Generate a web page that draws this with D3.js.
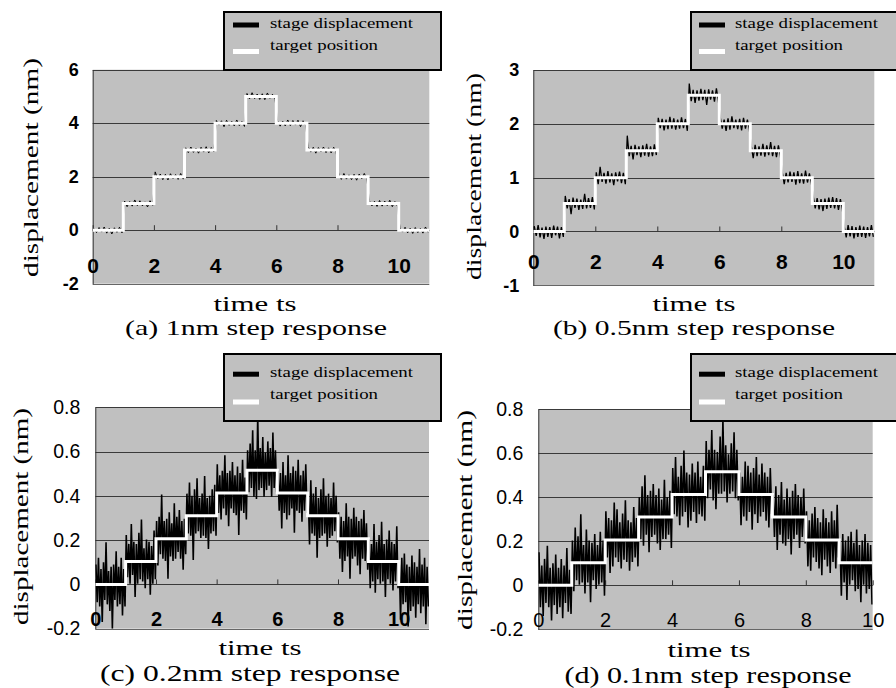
<!DOCTYPE html>
<html>
<head>
<meta charset="utf-8">
<script src="https://cdn.jsdelivr.net/npm/d3@7"></script>
<style>
body{margin:0;background:#fff}
</style>
</head>
<body>
<div id="root"></div>
<script>
// target position per ts (nm), one value per step
const targetA = [0,1,2,3,4,5,4,3,2,1,0]
const targetB = [0,0.52,1,1.5,2,2.53,2,1.5,1,0.52,0]
const targetC = [0,0.103,0.206,0.31,0.413,0.516,0.413,0.31,0.206,0.103,0]
const targetD = [0,0.103,0.206,0.31,0.413,0.516,0.413,0.31,0.206,0.103]

// stage displacement minus target, in 0.01 nm
// (a): 12 samples per ts, (b): 16, (c),(d): 24
const devA = [
  6,-9,10,-7,12,-11,8,-14,9,-8,11,-10,
  9,-12,7,-10,13,-8,10,-9,6,-13,10,-7,
  18,-8,10,-11,9,-12,11,-7,8,-10,12,-9,
  8,-10,11,-9,7,-12,10,-8,12,-11,9,-7,
  10,-7,9,-13,11,-8,8,-10,12,-9,7,-12,
  11,-9,14,-8,9,-11,10,-12,13,-7,8,-10,
  9,-11,8,-10,12,-9,10,-7,11,-13,9,-8,
  12,-8,10,-12,9,-7,11,-10,8,-11,10,-9,
  8,-10,12,-9,7,-11,9,-13,10,-8,12,-7,
  10,-9,8,-11,11,-10,9,-8,12,-12,7,-10,
  9,-7,11,-10,8,-12,10,-9,7,-11,12,-8]
const devB = [
  10,-8,12,-11,7,-14,9,-10,8,-12,11,-7,9,-13,8,-10,
  14,-9,8,-20,11,-8,9,-12,7,-10,18,-9,10,-8,12,-11,
  10,-12,20,-8,9,-11,12,-9,8,-14,10,-7,11,-10,9,-12,
  28,-10,9,-16,11,-8,8,-12,10,-9,13,-11,8,-10,12,-8,
  11,-8,9,-12,8,-10,13,-9,10,-11,8,-9,12,-8,9,-13,
  22,-11,10,-14,9,-10,12,-9,10,-18,11,-8,9,-12,13,-10,
  12,-9,8,-13,10,-11,14,-8,8,-10,9,-12,11,-9,8,-11,
  9,-14,11,-10,8,-9,13,-11,10,-8,16,-10,9,-12,10,-9,
  10,-12,9,-9,11,-8,10,-13,12,-10,8,-11,13,-9,8,-10,
  13,-9,10,-11,8,-14,9,-10,11,-8,12,-9,10,-12,8,-11,
  9,-11,12,-9,10,-13,8,-10,11,-10,9,-12,8,-9,12,-10]
const devC = [
  9,-8,12,-10,7,-17,10,-7,19,-9,6,-12,8,-20,9,-7,15,-10,8,-9,12,-14,7,-10,
  12,-7,8,-10,17,-6,9,-16,8,-10,13,-8,19,-9,6,-12,10,-8,9,-15,7,-10,14,-8,
  8,-12,10,-7,20,-9,8,-10,9,-18,12,-8,7,-10,16,-9,10,-6,13,-9,8,-14,9,-7,
  10,-8,15,-9,9,-20,12,-8,17,-7,8,-10,10,-9,18,-10,8,-15,9,-8,12,-7,14,-9,
  13,-9,8,-12,10,-7,17,-10,9,-15,10,-7,14,-9,8,-10,12,-19,9,-8,15,-9,7,-12,
  9,-10,12,-8,18,-12,9,-13,25,-9,10,-8,15,-12,8,-9,13,-7,10,-12,17,-8,9,-10,
  10,-8,9,-16,14,-9,8,-12,17,-10,9,-7,12,-18,10,-8,15,-9,8,-13,10,-8,13,-9,
  9,-13,16,-8,10,-9,13,-19,8,-10,12,-9,17,-8,9,-14,10,-10,8,-9,15,-7,9,-12,
  12,-9,10,-15,8,-10,16,-8,10,-18,9,-9,14,-8,10,-12,8,-16,9,-9,13,-10,7,-14,
  10,-12,8,-9,17,-14,9,-8,12,-10,18,-9,8,-16,10,-8,14,-10,9,-13,8,-9,16,-12,
  9,-16,12,-9,14,-8,9,-19,8,-12,13,-10,10,-15,8,-9,16,-13,9,-10,12,-18,8,-10]
const devD = [
  15,-10,9,-14,12,-8,18,-10,8,-16,10,-9,14,-13,8,-10,12,-15,9,-8,17,-12,7,-13,
  10,-13,16,-8,12,-10,22,-9,8,-14,15,-9,10,-18,9,-8,13,-12,8,-10,14,-9,10,-15,
  13,-8,10,-15,9,-12,17,-8,14,-10,8,-13,12,-9,18,-10,9,-14,8,-10,15,-8,10,-12,
  9,-10,14,-13,19,-8,10,-16,12,-9,15,-8,10,-12,13,-15,8,-10,17,-10,9,-8,12,-14,
  12,-9,17,-10,8,-14,13,-10,20,-8,10,-15,9,-12,14,-8,10,-13,15,-9,8,-10,13,-12,
  14,-12,10,-8,19,-13,10,-17,9,-10,16,-10,24,-9,12,-14,8,-10,13,-9,18,-12,10,-13,
  10,-14,8,-10,15,-12,13,-8,10,-16,12,-9,17,-13,9,-10,14,-8,10,-12,8,-15,12,-9,
  10,-9,14,-15,10,-8,16,-12,8,-13,13,-10,9,-17,12,-10,15,-8,10,-14,9,-9,13,-12,
  13,-12,9,-14,12,-8,15,-10,10,-13,8,-16,14,-9,10,-12,8,-15,13,-10,9,-13,16,-8,
  10,-15,13,-9,10,-17,12,-10,14,-8,9,-13,15,-12,8,-18,10,-10,13,-14,9,-12,8,-19]

const yticksA = [-2,0,2,4,6]
const yticksB = [-1,0,1,2,3]
const yticksC = [-0.2,0,0.2,0.4,0.6,0.8]
const xticks = [0,2,4,6,8,10]
const captions = ["(a) 1nm step response","(b) 0.5nm step response","(c) 0.2nm step response","(d) 0.1nm step response"]
const legendnames = ["stage displacement","target position"]
const ytitle = "displacement (nm)"
const xtitle = "time ts"

const serif = "'Liberation Serif', 'Times New Roman', serif"
const sans = "'Liberation Sans', Arial, sans-serif"

const panels = [
  {target:targetA, dev:devA, samples:12, lw:1, yticks:yticksA, xmax:11, caption:captions[0],
   left:92.7, right:429.3, top:69.7, bottom:283.7, ypad:14, xlaboff:35,
   ylabfont:{size:18, weight:"bold"}, xlabfont:{size:21, weight:"bold"},
   yt:{x:38, cy:167.5, len:219, size:22}, xt:{cx:255, y:310.5, len:83, size:20.5},
   cap:{cx:256, y:334.5, len:262, size:22},
   leg:{x:224, y:12, w:217, h:58, sx:233, tx:270, b1:27.5, b2:50, s1:22.5, s2:49}},
  {target:targetB, dev:devB, samples:16, lw:1.3, yticks:yticksB, xmax:11, caption:captions[1],
   left:533.3, right:874.3, top:70, bottom:285.3, ypad:14, xlaboff:30.5,
   ylabfont:{size:18, weight:"bold"}, xlabfont:{size:21, weight:"bold"},
   yt:{x:481, cy:176.5, len:207, size:22}, xt:{cx:694, y:310.5, len:83, size:20.5},
   cap:{cx:694, y:334.5, len:282, size:22},
   leg:{x:691, y:12, w:230, h:58, sx:699, tx:735, b1:27.5, b2:50, s1:22.5, s2:49}},
  {target:targetC, dev:devC, samples:24, lw:1.6, yticks:yticksC, xmax:11, caption:captions[2],
   left:95.3, right:429, top:407.3, bottom:628.7, ypad:15, xlaboff:34.6,
   ylabfont:{size:19.5, weight:"normal"}, xlabfont:{size:20, weight:"bold"},
   yt:{x:28, cy:516.5, len:217, size:22}, xt:{cx:260, y:655, len:83, size:21.5},
   cap:{cx:250, y:681, len:300, size:24},
   leg:{x:224, y:354, w:217, h:67, sx:233, tx:270, b1:376.7, b2:399, s1:371.7, s2:399.5}},
  {target:targetD, dev:devD, samples:24, lw:1.6, yticks:yticksC, xmax:10, caption:captions[3],
   left:538.3, right:872.7, top:409.3, bottom:629.3, ypad:15, xlaboff:34.7,
   ylabfont:{size:19.5, weight:"normal"}, xlabfont:{size:20, weight:"normal"},
   yt:{x:472, cy:520, len:220, size:22}, xt:{cx:709, y:657, len:83, size:21.5},
   cap:{cx:708, y:683, len:287, size:23},
   leg:{x:691, y:354, w:230, h:67, sx:699, tx:735, b1:376.7, b2:399, s1:371.7, s2:399.5}}
]

const svg = d3.select("#root").append("svg")
  .attr("width",896)
  .attr("height",688)
  .style("display","block")

function drawpanel(p, k) {
  const x = d3.scaleLinear().domain([0,p.xmax]).range([p.left,p.right])
  const y = d3.scaleLinear().domain([p.yticks[0],p.yticks[p.yticks.length-1]]).range([p.bottom,p.top])
  const g = svg.append("g")

  //plot area
  g.append("rect")
    .attr("x",p.left).attr("y",p.top)
    .attr("width",p.right-p.left).attr("height",p.bottom-p.top)
    .attr("fill","#c0c0c0")
  //grid lines (the lowest one is the frame)
  g.selectAll(".grid").data(p.yticks).join("line")
    .attr("class","grid")
    .attr("x1",p.left).attr("x2",p.right)
    .attr("y1",d=>Math.round(y(d))+0.5).attr("y2",d=>Math.round(y(d))+0.5)
    .attr("stroke",(d,i)=>i==0 ? "#666" : "#3a3a3a")
    .attr("stroke-width",1)

  //y axis
  const yax = g.append("g")
    .attr("transform","translate("+p.left+",0)")
    .call(d3.axisLeft(y).tickValues(p.yticks).tickSize(0).tickSizeOuter(0).tickPadding(p.ypad).tickFormat(d=>String(d)))
  yax.select(".domain").attr("stroke","#333")
  yax.selectAll("text")
    .attr("font-family",sans)
    .attr("font-size",p.ylabfont.size)
    .attr("font-weight",p.ylabfont.weight)
    .attr("fill","#000")

  //x axis crosses at 0
  const xax = g.append("g")
    .attr("transform","translate(0,"+y(0)+")")
    .call(d3.axisBottom(x).tickValues(xticks).tickSize(-5).tickSizeOuter(0).tickFormat(d=>String(d)))
  xax.select(".domain").remove()
  xax.selectAll("line").attr("stroke","#333")
  xax.selectAll("text")
    .attr("y",p.xlaboff)
    .attr("dy","0.35em")
    .attr("font-family",sans)
    .attr("font-size",p.xlabfont.size)
    .attr("font-weight",p.xlabfont.weight)
    .attr("fill","#000")

  //traces, clipped to the plot area
  g.append("clipPath").attr("id","clip"+k)
    .append("rect")
    .attr("x",p.left).attr("y",p.top)
    .attr("width",p.right-p.left).attr("height",p.bottom-p.top)
  const traces = g.append("g").attr("clip-path","url(#clip"+k+")")

  const n = p.samples
  const stage = p.dev.map((d,i)=>[(i+0.5)/n, p.target[Math.floor(i/n)]+d/100])
  traces.append("path")
    .datum(stage)
    .attr("d",d3.line().x(d=>x(d[0])).y(d=>y(d[1])))
    .attr("fill","none")
    .attr("stroke","#000")
    .attr("stroke-width",p.lw)

  const steps = p.target.map((v,i)=>[i,v])
  steps.push([p.target.length, p.target[p.target.length-1]])
  traces.append("path")
    .datum(steps)
    .attr("d",d3.line().x(d=>x(d[0])).y(d=>y(d[1])).curve(d3.curveStepAfter))
    .attr("fill","none")
    .attr("stroke","#fff")
    .attr("stroke-width",3)

  //titles
  g.append("text")
    .attr("transform","translate("+p.yt.x+","+p.yt.cy+") rotate(-90)")
    .attr("x",-p.yt.len/2)
    .attr("textLength",p.yt.len)
    .attr("lengthAdjust","spacingAndGlyphs")
    .attr("font-family",serif)
    .attr("font-size",p.yt.size)
    .text(ytitle)
  g.append("text")
    .attr("x",p.xt.cx-p.xt.len/2).attr("y",p.xt.y)
    .attr("textLength",p.xt.len)
    .attr("lengthAdjust","spacingAndGlyphs")
    .attr("font-family",serif)
    .attr("font-size",p.xt.size)
    .text(xtitle)
  g.append("text")
    .attr("x",p.cap.cx-p.cap.len/2).attr("y",p.cap.y)
    .attr("textLength",p.cap.len)
    .attr("lengthAdjust","spacingAndGlyphs")
    .attr("font-family",serif)
    .attr("font-size",p.cap.size)
    .text(p.caption)

  //legend
  const l = p.leg
  g.append("rect")
    .attr("x",l.x).attr("y",l.y).attr("width",l.w).attr("height",l.h)
    .attr("fill","#c0c0c0")
    .attr("stroke","#000")
    .attr("stroke-width",2)
  g.append("rect").attr("x",l.sx).attr("y",l.s1).attr("width",26).attr("height",5).attr("fill","#000")
  g.append("rect").attr("x",l.sx).attr("y",l.s2).attr("width",26).attr("height",5).attr("fill","#fff")
  g.selectAll(".legtext").data(legendnames).join("text")
    .attr("class","legtext")
    .attr("x",l.tx)
    .attr("y",(d,i)=>i==0 ? l.b1 : l.b2)
    .attr("textLength",(d,i)=>i==0 ? 143 : 108)
    .attr("lengthAdjust","spacingAndGlyphs")
    .attr("font-family",serif)
    .attr("font-size",15)
    .text(d=>d)
}

panels.forEach((p,k)=>drawpanel(p,k))
</script>
</body>
</html>
